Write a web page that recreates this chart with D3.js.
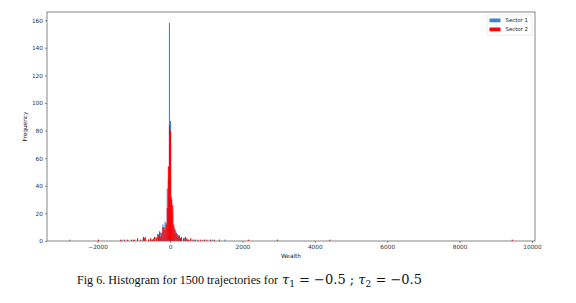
<!DOCTYPE html>
<html>
<head>
<meta charset="utf-8">
<script src="https://cdn.jsdelivr.net/npm/d3@7"></script>
<style>
  body { margin: 0; background: #fff; }
  svg { display: block; }
</style>
</head>
<body>
<div id="chart"></div>
<script>
// histogram bins, width in Wealth units
const binWidth = 30;
const centerStart = -330; // first bin of the dense centre block
const sector1Center = [5, 3, 6, 4, 12, 9, 14, 13, 38, 45, 158, 87, 32, 20, 10, 9, 7, 5, 4, 4, 2, 2];
const sector2Center = [4, 7, 3, 6, 10, 10, 8, 12, 24, 54, 84, 80, 30, 26, 12, 8, 6, 5, 3, 4, 2, 3];
// sparse tail bins: [bin start, count]
const sector1Tail = [[-2785, 1], [-1340, 1], [-1020, 1], [-760, 2], [-690, 3], [-600, 1], [-520, 1],
  [-470, 2], [-400, 3], [-360, 5], [380, 2], [470, 1], [540, 1], [650, 1], [900, 1], [1150, 1], [1500, 1]];
const sector2Tail = [[-1990, 1], [-1379, 1], [-1268, 1], [-1185, 1], [-1075, 1], [-993, 1], [-910, 2],
  [-827, 1], [-744, 3], [-717, 2], [-607, 1], [-551, 2], [-496, 1], [-441, 3], [-386, 2],
  [360, 2], [410, 3], [450, 2], [500, 1], [560, 2], [620, 1], [690, 1], [760, 1], [830, 1], [940, 1],
  [1000, 1], [1100, 1], [1210, 1], [1350, 1], [2150, 1], [2950, 1], [4400, 1], [9440, 1]];
const xTicks = [-2000, 0, 2000, 4000, 6000, 8000, 10000];
const yTicks = [0, 20, 40, 60, 80, 100, 120, 140, 160];
const seriesNames = ['Sector 1', 'Sector 2'];
const seriesColors = ['#3a86d0', '#ff0000'];

function toBins(center, tail) {
  const bins = center.map((c, i) => ({ x0: centerStart + i * binWidth, count: c }));
  tail.forEach(([x0, count]) => bins.push({ x0, count }));
  return bins.filter((b) => b.count > 0);
}
const series = [toBins(sector1Center, sector1Tail), toBins(sector2Center, sector2Tail)];

const W = 576, H = 303;
const plot = { left: 47, right: 535, top: 12, bottom: 241 };
const svg = d3.select('#chart').append('svg').attr('width', W).attr('height', H);

const all = series.flat();
const lo = d3.min(all, (d) => d.x0);
const hi = d3.max(all, (d) => d.x0 + binWidth);
const pad = (hi - lo) * 0.05;
const x = d3.scaleLinear().domain([lo - pad, hi + pad]).range([plot.left, plot.right]);
const yMax = d3.max(all, (d) => d.count) * 1.05;
const y = d3.scaleLinear().domain([0, yMax]).range([plot.bottom, plot.top]);

// bars: sector 1 first, sector 2 drawn over it
series.forEach((bins, i) => {
  svg.append('g').selectAll('rect').data(bins).join('rect')
    .attr('x', (d) => x(d.x0))
    .attr('width', (d) => Math.max(0.6, x(d.x0 + binWidth) - x(d.x0)))
    .attr('y', (d) => y(d.count))
    .attr('height', (d) => y(0) - y(d.count))
    .attr('fill', seriesColors[i]);
});

// frame
svg.append('rect')
  .attr('x', plot.left).attr('y', plot.top)
  .attr('width', plot.right - plot.left).attr('height', plot.bottom - plot.top)
  .attr('fill', 'none').attr('stroke', '#666').attr('stroke-width', 0.8);

const tickFont = (sel) => sel.selectAll('text')
  .attr('font-family', 'DejaVu Sans, sans-serif').attr('font-size', 5.8).attr('fill', '#333');

const xAxis = svg.append('g').attr('transform', `translate(0,${plot.bottom})`)
  .call(d3.axisBottom(x).tickValues(xTicks).tickSize(2).tickPadding(2)
    .tickFormat((d) => d3.format('d')(d).replace('-', '\u2212')));
xAxis.select('.domain').remove();
xAxis.selectAll('line').attr('stroke', '#444').attr('stroke-width', 0.6);
tickFont(xAxis);

const yAxis = svg.append('g').attr('transform', `translate(${plot.left},0)`)
  .call(d3.axisLeft(y).tickValues(yTicks).tickSize(2).tickPadding(2));
yAxis.select('.domain').remove();
yAxis.selectAll('line').attr('stroke', '#444').attr('stroke-width', 0.6);
tickFont(yAxis);

// axis labels
svg.append('text')
  .attr('x', (plot.left + plot.right) / 2).attr('y', 258)
  .attr('text-anchor', 'middle').attr('font-family', 'DejaVu Sans, sans-serif')
  .attr('font-size', 5.8).attr('fill', '#222').text('Wealth');
svg.append('text')
  .attr('transform', `translate(27,${(plot.top + plot.bottom) / 2}) rotate(-90)`)
  .attr('text-anchor', 'middle').attr('font-family', 'DejaVu Sans, sans-serif')
  .attr('font-size', 5.8).attr('fill', '#222').text('Frequency');

// legend
const legend = svg.append('g').attr('transform', 'translate(487,15)');
legend.append('rect').attr('width', 45).attr('height', 20).attr('rx', 1)
  .attr('fill', '#fff').attr('stroke', '#ddd').attr('stroke-width', 0.6);
seriesNames.forEach((name, i) => {
  legend.append('rect').attr('x', 2.5).attr('y', 3.5 + i * 9).attr('width', 11).attr('height', 3.8)
    .attr('fill', seriesColors[i]);
  legend.append('text').attr('x', 18.5).attr('y', 7.4 + i * 9)
    .attr('font-family', 'DejaVu Sans, sans-serif').attr('font-size', 5.4).attr('fill', '#222')
    .text(name);
});

// caption
svg.append('text')
  .attr('x', 77).attr('y', 284)
  .attr('font-family', 'Liberation Serif, serif').attr('font-size', 11.5).attr('fill', '#111')
  .attr('textLength', 201).attr('lengthAdjust', 'spacingAndGlyphs')
  .text('Fig 6. Histogram for 1500 trajectories for');
const math = svg.append('text')
  .attr('x', 282).attr('y', 284)
  .attr('font-family', 'DejaVu Serif, serif').attr('font-size', 13).attr('fill', '#111');
math.append('tspan').attr('font-style', 'italic').text('\u03C4');
math.append('tspan').attr('font-size', 9).attr('dy', 2.5).text('1');
math.append('tspan').attr('dy', -2.5).text(' = \u22120.5 ; ');
math.append('tspan').attr('font-style', 'italic').text('\u03C4');
math.append('tspan').attr('font-size', 9).attr('dy', 2.5).text('2');
math.append('tspan').attr('dy', -2.5).text(' = \u22120.5');
</script>
</body>
</html>
